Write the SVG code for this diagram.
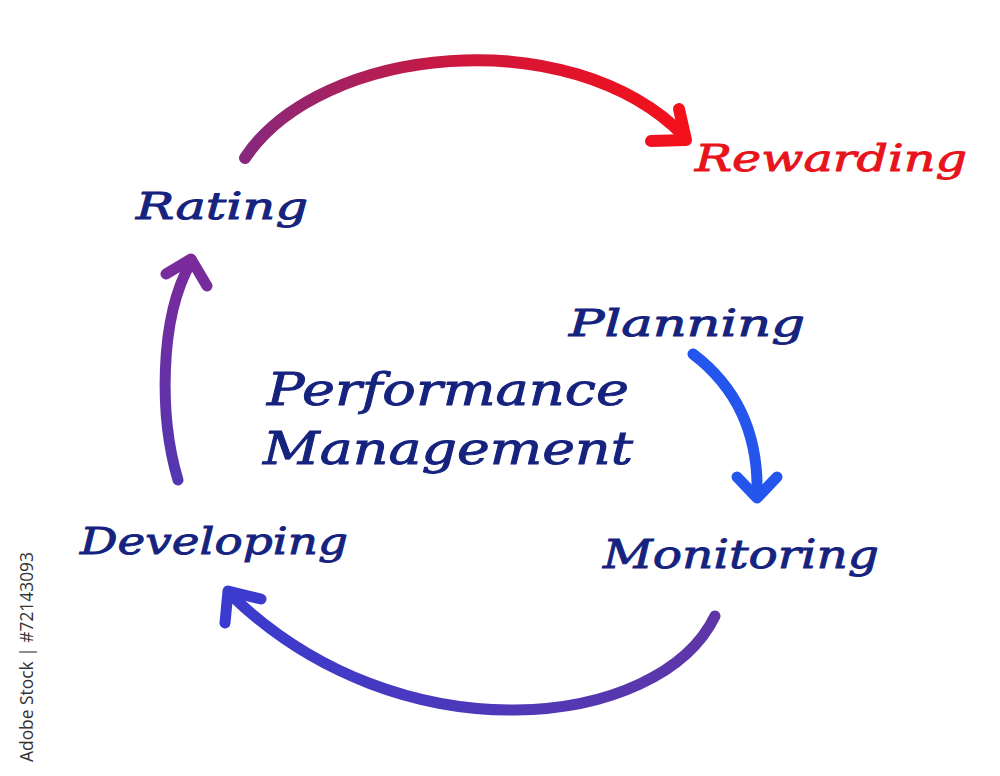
<svg xmlns="http://www.w3.org/2000/svg" width="1000" height="776" viewBox="0 0 1000 776">
  <style>
    .lbl { font-family: "DejaVu Serif", "Liberation Serif", serif; font-style: italic; fill: #15237e; stroke: #15237e; stroke-width: 0.9; }
    .red { fill: #e8141c; stroke: #e8141c; }
    .arr { fill: none; stroke-linecap: round; stroke-linejoin: round; }
    .wm { font-family: "Open Sans", "DejaVu Sans", sans-serif; fill: #333333; font-size: 18px; }
  </style>
  <defs>
    <linearGradient id="gTop" gradientUnits="userSpaceOnUse" x1="245" y1="0" x2="690" y2="0">
      <stop offset="0" stop-color="#87287c"/>
      <stop offset="0.5" stop-color="#d0173a"/>
      <stop offset="1" stop-color="#f5101a"/>
    </linearGradient>
    <linearGradient id="gLeft" gradientUnits="userSpaceOnUse" x1="0" y1="485" x2="0" y2="255">
      <stop offset="0" stop-color="#5237b2"/>
      <stop offset="1" stop-color="#7b2a9a"/>
    </linearGradient>
    <linearGradient id="gBot" gradientUnits="userSpaceOnUse" x1="718" y1="0" x2="222" y2="0">
      <stop offset="0" stop-color="#5f36a6"/>
      <stop offset="1" stop-color="#3a3bcf"/>
    </linearGradient>
  </defs>
  <rect width="1000" height="776" fill="#ffffff"/>

  <g id="connectors">
    <g id="rating-to-rewarding" stroke="url(#gTop)" stroke-width="12" class="arr">
      <path d="M245,158 C320,45 570,20 684,136"/>
      <polyline points="679,109 686,140 651,141"/>
    </g>
    <g id="planning-to-monitoring" stroke="#2456ee" stroke-width="11" class="arr">
      <path d="M693,354 Q760,405 757,496"/>
      <polyline points="737,477 757,498 777,477"/>
    </g>
    <g id="monitoring-to-developing" stroke="url(#gBot)" stroke-width="11" class="arr">
      <path d="M715,616 C660,730 400,760 230,594"/>
      <polyline points="261,599 228,591 225,623"/>
    </g>
    <g id="developing-to-rating" stroke="url(#gLeft)" stroke-width="11" class="arr">
      <path d="M178,480 C160,420 158,320 191,262"/>
      <polyline points="166,274 191,259 207,286"/>
    </g>
  </g>

  <g id="node-center">
    <text class="lbl" x="267" y="405" font-size="44" textLength="362" lengthAdjust="spacingAndGlyphs">Performance</text>
    <text class="lbl" x="263" y="464" font-size="44" textLength="370" lengthAdjust="spacingAndGlyphs">Management</text>
  </g>
  <g id="node-rating">
    <text class="lbl" x="136" y="219" font-size="37" textLength="172" lengthAdjust="spacingAndGlyphs">Rating</text>
  </g>
  <g id="node-rewarding">
    <text class="lbl red" x="695" y="171" font-size="37" textLength="272" lengthAdjust="spacingAndGlyphs">Rewarding</text>
  </g>
  <g id="node-planning">
    <text class="lbl" x="569" y="336" font-size="37" textLength="236" lengthAdjust="spacingAndGlyphs">Planning</text>
  </g>
  <g id="node-monitoring">
    <text class="lbl" x="603" y="568" font-size="40" textLength="276" lengthAdjust="spacingAndGlyphs">Monitoring</text>
  </g>
  <g id="node-developing">
    <text class="lbl" x="80" y="554" font-size="38" textLength="268" lengthAdjust="spacingAndGlyphs">Developing</text>
  </g>

  <text class="wm" transform="translate(33,762) rotate(-90)" x="0" y="0" textLength="210" lengthAdjust="spacingAndGlyphs">Adobe Stock | #72143093</text>
</svg>
